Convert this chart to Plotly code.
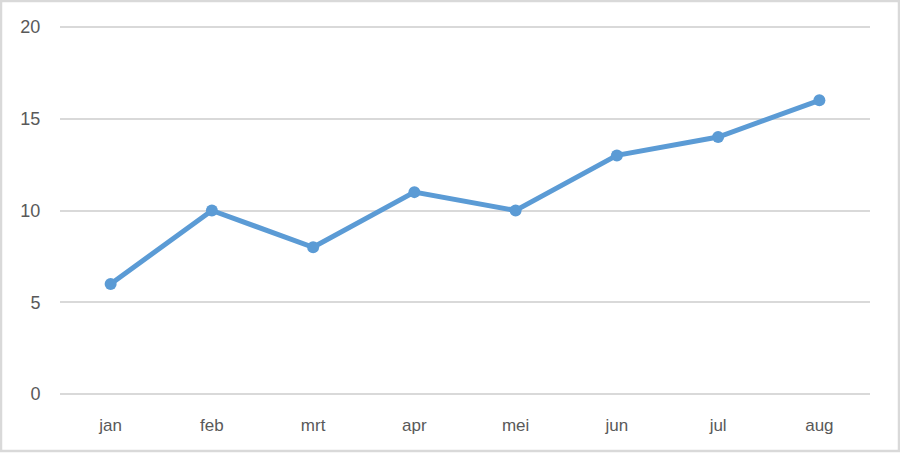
import plotly.graph_objects as go

months = ["jan", "feb", "mrt", "apr", "mei", "jun", "jul", "aug"]
values = [6, 10, 8, 11, 10, 13, 14, 16]
y_ticks = [0, 5, 10, 15, 20]

W, H = 900, 453
L, R, T, B = 60, 30, 25, 57
pw, ph = W - L - R, H - T - B

fig = go.Figure()
fig.add_trace(go.Scatter(
    x=months, y=values, mode="lines+markers",
    line=dict(color="#5B9BD5", width=5),
    marker=dict(color="#5B9BD5", size=12),
    showlegend=False, hoverinfo="x+y",
))

fig.update_layout(
    width=W, height=H,
    margin=dict(l=L, r=R, t=T, b=B, pad=0),
    paper_bgcolor="white", plot_bgcolor="white",
    font=dict(family="Liberation Sans, Arial, sans-serif", size=16, color="#595959"),
    xaxis=dict(
        type="category", range=[-0.5, 7.5], showgrid=False, zeroline=False,
        showline=False, ticks="outside", ticklen=14, tickcolor="rgba(0,0,0,0)",
        tickfont=dict(size=17, color="#595959"), fixedrange=True,
    ),
    yaxis=dict(
        range=[-0.1, 20.1], tickvals=y_ticks, showgrid=True, gridcolor="#D9D9D9",
        gridwidth=1.5, zeroline=False, showline=False, ticks="outside",
        ticklen=15, tickcolor="rgba(0,0,0,0)",
        tickfont=dict(size=18, color="#595959"), fixedrange=True,
    ),
    shapes=[dict(
        type="rect", xref="paper", yref="paper",
        x0=(1 - L) / pw, x1=1 + (R - 1) / pw,
        y0=-(B - 2) / ph, y1=1 + (T - 1) / ph,
        line=dict(color="#D9D9D9", width=2.5), layer="below",
    )],
)

fig.write_html("out.html", config={"displayModeBar": False},
               post_script="document.body.style.margin='0';document.body.style.padding='0';")
